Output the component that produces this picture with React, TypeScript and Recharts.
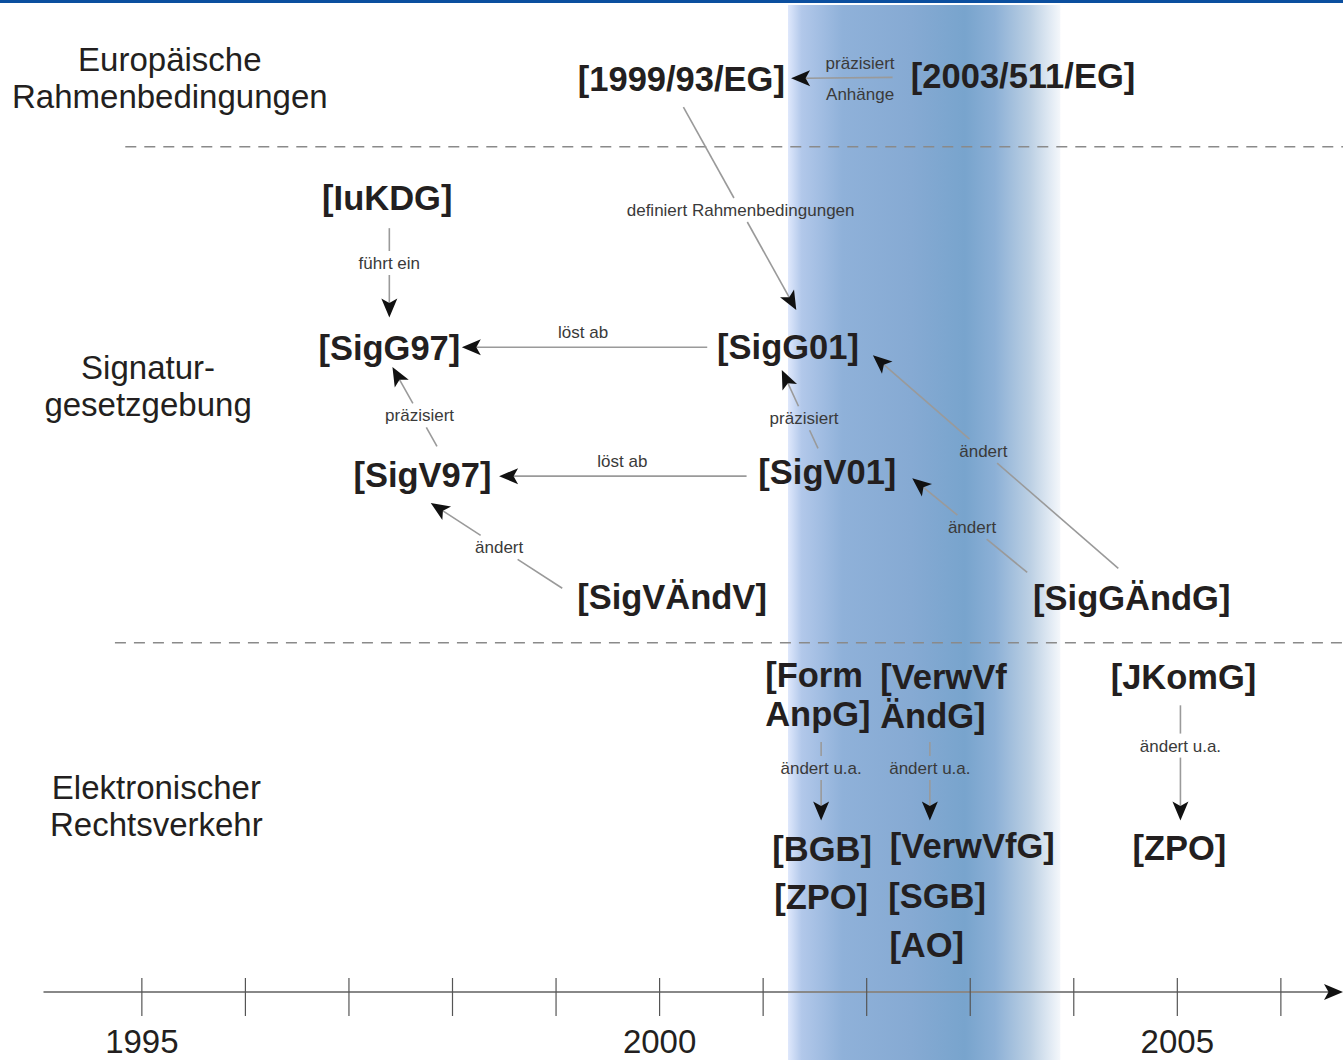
import { ComposedChart, XAxis, YAxis, Scatter, ReferenceArea, ReferenceLine } from 'recharts';

// Zeitachse (Jahre) und Höhe über der Achse (0 = Achse, 100 = oberer Rand)
const X_MIN = 1993.63;
const X_MAX = 2006.6;

const YEARS = [1995, 1996, 1997, 1998, 1999, 2000, 2001, 2002, 2003, 2004, 2005, 2006];
const YEAR_LABELS = [1995, 2000, 2005];

// hervorgehobener Zeitraum
const FOCUS = { from: 2001.24, to: 2003.87 };

const ROWS = [
  { year: 1995.27, level: 92.2, label: 'Europäische\nRahmenbedingungen' },
  { year: 1995.06, level: 61.1, label: 'Signatur-\ngesetzgebung' },
  { year: 1995.14, level: 18.8, label: 'Elektronischer\nRechtsverkehr' },
];

const DIVIDERS = [
  { from: 1994.84, level: 85.2 },
  { from: 1994.74, level: 35.2 },
];

const NODES = [
  { year: 2000.21, level: 92.0, label: '[1999/93/EG]' },
  { year: 2003.51, level: 92.3, label: '[2003/511/EG]' },
  { year: 1997.37, level: 80.0, label: '[IuKDG]' },
  { year: 1997.39, level: 64.9, label: '[SigG97]' },
  { year: 2001.24, level: 65.0, label: '[SigG01]' },
  { year: 1997.71, level: 52.1, label: '[SigV97]' },
  { year: 2001.62, level: 52.4, label: '[SigV01]' },
  { year: 2000.12, level: 39.8, label: '[SigVÄndV]' },
  { year: 2004.56, level: 39.7, label: '[SigGÄndG]' },
  { year: 2001.02, level: 30.0, label: '[Form\nAnpG]' },
  { year: 2002.13, level: 29.8, label: '[VerwVf\nÄndG]' },
  { year: 2005.06, level: 31.8, label: '[JKomG]' },
  { year: 2001.57, level: 14.4, label: '[BGB]' },
  { year: 2001.56, level: 9.6, label: '[ZPO]' },
  { year: 2003.02, level: 14.7, label: '[VerwVfG]' },
  { year: 2002.68, level: 9.7, label: '[SGB]' },
  { year: 2002.58, level: 4.7, label: '[AO]' },
  { year: 2005.02, level: 14.5, label: '[ZPO]' },
];

type Edge = {
  from: [number, number];
  to: [number, number];
  label: string;
  below?: string;
  at: number;
  side: 'on' | 'above';
};

const EDGES: Edge[] = [
  { from: [2002.25, 92.2], to: [2001.27, 92.1], label: 'präzisiert', below: 'Anhänge', at: 0.32, side: 'above' },
  { from: [2000.23, 89.2], to: [2001.32, 68.75], label: 'definiert Rahmenbedingungen', at: 0.507, side: 'on' },
  { from: [1997.39, 77.0], to: [1997.39, 68.0], label: 'führt ein', at: 0.39, side: 'on' },
  { from: [2000.46, 65.0], to: [1998.09, 65.0], label: 'löst ab', at: 0.506, side: 'above' },
  { from: [1997.85, 55.0], to: [1997.42, 63.0], label: 'präzisiert', at: 0.39, side: 'on' },
  { from: [2001.53, 54.8], to: [2001.18, 62.7], label: 'präzisiert', at: 0.385, side: 'on' },
  { from: [2000.84, 52.0], to: [1998.45, 52.0], label: 'löst ab', at: 0.502, side: 'above' },
  { from: [1999.06, 40.7], to: [1997.79, 49.3], label: 'ändert', at: 0.48, side: 'on' },
  { from: [2004.43, 42.7], to: [2002.06, 64.2], label: 'ändert', at: 0.55, side: 'on' },
  { from: [2003.55, 42.3], to: [2002.44, 51.8], label: 'ändert', at: 0.48, side: 'on' },
  { from: [2001.56, 25.2], to: [2001.56, 17.3], label: 'ändert u.a.', at: 0.33, side: 'on' },
  { from: [2002.61, 25.2], to: [2002.61, 17.3], label: 'ändert u.a.', at: 0.33, side: 'on' },
  { from: [2005.03, 28.9], to: [2005.03, 17.3], label: 'ändert u.a.', at: 0.35, side: 'on' },
];

const FONT = '"Liberation Sans", Arial, Helvetica, sans-serif';
const INK = '#231f20';
const NOTE = '#3a3a3a';
const EDGE_GREY = '#9a9a9a';
const NOTE_SIZE = 17;
const LEFT_ALIGNED = new Set(['[Form\nAnpG]', '[VerwVf\nÄndG]']);
const ARROW = { len: 19, half: 8, notch: 4.5 };

function arrowHead(x: number, y: number, ux: number, uy: number, fill = '#111') {
  const nx = -uy;
  const ny = ux;
  const bx = x - ux * ARROW.len;
  const by = y - uy * ARROW.len;
  const pts = [
    [x, y],
    [bx + nx * ARROW.half, by + ny * ARROW.half],
    [x - ux * (ARROW.len - ARROW.notch), y - uy * (ARROW.len - ARROW.notch)],
    [bx - nx * ARROW.half, by - ny * ARROW.half],
  ];
  return <polygon points={pts.map((p) => p.join(',')).join(' ')} fill={fill} />;
}

// Liang-Barsky: which part of the segment lies inside the label box
function clipBox(x: number, y: number, dx: number, dy: number, x0: number, x1: number, y0: number, y1: number) {
  const p = [-dx, dx, -dy, dy];
  const q = [x - x0, x1 - x, y - y0, y1 - y];
  let t0 = 0;
  let t1 = 1;
  for (let i = 0; i < 4; i++) {
    if (p[i] === 0) {
      if (q[i] < 0) return null;
    } else {
      const r = q[i] / p[i];
      if (p[i] < 0) t0 = Math.max(t0, r);
      else t1 = Math.min(t1, r);
    }
  }
  return t0 < t1 ? [t0, t1] : null;
}

function edgeShape(edge: Edge) {
  return (props: any) => {
    const { x1, y1, x2, y2 } = props;
    const dx = x2 - x1;
    const dy = y2 - y1;
    const len = Math.hypot(dx, dy);
    const ux = dx / len;
    const uy = dy / len;
    const lx = x1 + dx * edge.at;
    const ly = y1 + dy * edge.at;
    const stop = 1 - (ARROW.len - ARROW.notch) / len;
    let parts: number[][] = [[0, stop]];
    if (edge.side === 'on') {
      const hw = (edge.label.length * NOTE_SIZE * 0.5) / 2 + 2;
      const gap = clipBox(x1, y1, dx, dy, lx - hw, lx + hw, ly - 12, ly + 12);
      if (gap) parts = [[0, gap[0]], [gap[1], stop]];
    }
    return (
      <g>
        {parts.map(([a, b], i) => (
          <line
            key={i}
            x1={x1 + dx * a}
            y1={y1 + dy * a}
            x2={x1 + dx * b}
            y2={y1 + dy * b}
            stroke={EDGE_GREY}
            strokeWidth={1.6}
          />
        ))}
        {arrowHead(x2, y2, ux, uy)}
        <text
          x={lx}
          y={edge.side === 'on' ? ly + 6 : ly - 9}
          textAnchor="middle"
          fontFamily={FONT}
          fontSize={NOTE_SIZE}
          fill={NOTE}
        >
          {edge.label}
        </text>
        {edge.below && (
          <text x={lx} y={ly + 22} textAnchor="middle" fontFamily={FONT} fontSize={NOTE_SIZE} fill={NOTE}>
            {edge.below}
          </text>
        )}
      </g>
    );
  };
}

function multiline(cx: number, cy: number, label: string, fs: number, lh: number, lift: number, anchor: string, weight: string) {
  const lines = label.split('\n');
  const first = cy - ((lines.length - 1) * lh) / 2 + lift * fs;
  return (
    <text x={cx} y={first} textAnchor={anchor} fontFamily={FONT} fontSize={fs} fontWeight={weight} fill={INK}>
      {lines.map((l, i) => (
        <tspan key={i} x={cx} y={first + i * lh}>
          {l}
        </tspan>
      ))}
    </text>
  );
}

function NodeShape(props: any) {
  const { cx, cy, payload } = props;
  const anchor = LEFT_ALIGNED.has(payload.label) ? 'start' : 'middle';
  return multiline(cx, cy, payload.label, 34.5, 39, 0.35, anchor, 'bold');
}

function RowShape(props: any) {
  const { cx, cy, payload } = props;
  return multiline(cx, cy, payload.label, 33, 37, 0.36, 'middle', 'normal');
}

function YearTick(props: any) {
  const { x, y, payload } = props;
  const year = payload.value;
  return (
    <g>
      <line x1={x} x2={x} y1={y - 14} y2={y + 24} stroke="#555" strokeWidth={1.2} />
      {YEAR_LABELS.includes(year) && (
        <text x={x} y={y + 61} textAnchor="middle" fontFamily={FONT} fontSize={33} fill={INK}>
          {year}
        </text>
      )}
    </g>
  );
}

function AxisShape(props: any) {
  const { x1, y1, x2, y2 } = props;
  return (
    <g>
      <line x1={x1} y1={y1} x2={x2 - 8} y2={y2} stroke="#888" strokeWidth={2.2} />
      {arrowHead(x2, y2, 1, 0, '#111')}
    </g>
  );
}

export default function App() {
  return (
    <div style={{ position: 'absolute', left: 0, top: 0, width: 1343, height: 1060, background: '#fff', overflow: 'hidden' }}>
      <div style={{ position: 'absolute', left: 0, top: 0, width: 1343, height: 3, background: '#0b4f9f' }} />
      <ComposedChart width={1343} height={1060} margin={{ top: 0, right: 0, bottom: 0, left: 0 }}>
        <defs>
          <linearGradient id="focusBand" x1="0" y1="0" x2="1" y2="0">
            <stop offset="0%" stopColor="#dfe8fc" />
            <stop offset="5%" stopColor="#b2c8ea" />
            <stop offset="20%" stopColor="#8fb1d9" />
            <stop offset="45%" stopColor="#86aad3" />
            <stop offset="65%" stopColor="#78a4cd" />
            <stop offset="76%" stopColor="#8cb0d6" />
            <stop offset="89%" stopColor="#bcd0e4" />
            <stop offset="100%" stopColor="#f4f7fb" />
          </linearGradient>
        </defs>
        <XAxis
          type="number"
          dataKey="year"
          domain={[X_MIN, X_MAX]}
          ticks={YEARS}
          interval={0}
          height={68}
          tick={<YearTick />}
          tickLine={false}
          axisLine={false}
          tickSize={0}
          tickMargin={0}
          allowDataOverflow
        />
        <YAxis type="number" dataKey="level" domain={[0, 100]} hide allowDataOverflow />
        <ReferenceArea
          x1={FOCUS.from}
          x2={FOCUS.to}
          y1={-6.85}
          y2={99.5}
          ifOverflow="visible"
          fill="url(#focusBand)"
          fillOpacity={1}
          stroke="none"
        />
        {DIVIDERS.map((d, i) => (
          <ReferenceLine
            key={`d${i}`}
            segment={[
              { x: d.from, y: d.level },
              { x: X_MAX, y: d.level },
            ]}
            stroke="#8a8a8a"
            strokeWidth={1.5}
            strokeDasharray="11 8"
            ifOverflow="visible"
          />
        ))}
        <ReferenceLine
          segment={[
            { x: 1994.05, y: 0 },
            { x: X_MAX, y: 0 },
          ]}
          ifOverflow="visible"
          shape={AxisShape}
        />
        {EDGES.map((e, i) => (
          <ReferenceLine
            key={`e${i}`}
            segment={[
              { x: e.from[0], y: e.from[1] },
              { x: e.to[0], y: e.to[1] },
            ]}
            ifOverflow="visible"
            shape={edgeShape(e)}
          />
        ))}
        <Scatter data={ROWS} dataKey="level" shape={RowShape} isAnimationActive={false} />
        <Scatter data={NODES} dataKey="level" shape={NodeShape} isAnimationActive={false} />
      </ComposedChart>
    </div>
  );
}
